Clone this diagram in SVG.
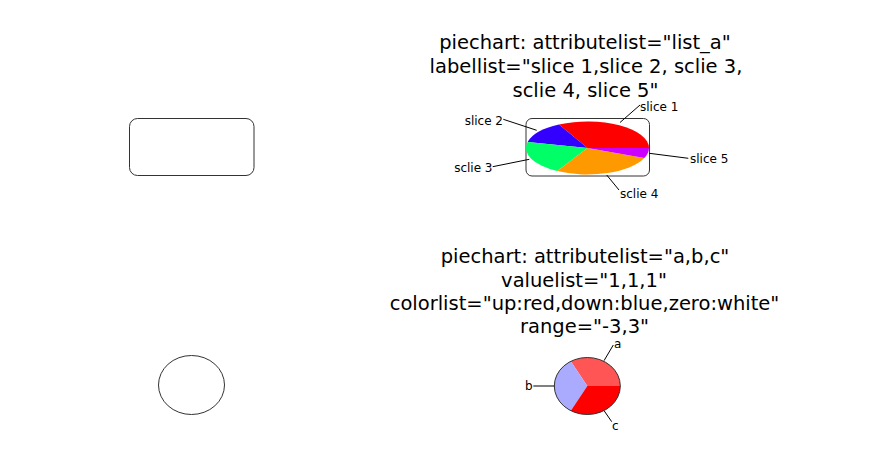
<svg xmlns="http://www.w3.org/2000/svg" width="889" height="475" viewBox="0 0 889 475">
<style>
.shape{fill:#fff;stroke:#333;stroke-width:1}
.title{font-family:"DejaVu Sans",sans-serif;font-size:19.5px;fill:#000;text-anchor:middle}
.lbl{font-family:"DejaVu Sans",sans-serif;font-size:12px;fill:#000}
.lead{stroke:#000;stroke-width:1;fill:none}
</style>
<rect width="889" height="475" fill="#fff"/>
<g id="node-rect">
<rect class="shape" x="129.5" y="118.5" width="124.5" height="57" rx="8"/>
</g>
<g id="node-ellipse">
<ellipse class="shape" cx="191.5" cy="385" rx="33" ry="29.5"/>
</g>
<g id="node-pie1">
<text class="title" x="585" y="48.5">piechart: attributelist="list_a"</text>
<text class="title" x="586" y="72.5">labellist="slice 1,slice 2, sclie 3,</text>
<text class="title" x="585.5" y="96.5">sclie 4, slice 5"</text>
<rect class="shape" x="526" y="118.5" width="123.5" height="57.5" rx="6"/>
<path d="M587.5,148 L649,148 A61.5,26.5 0 0,0 559,124.5 Z" fill="#ff0000"/>
<path d="M587.5,148 L559,124.5 A61.5,26.5 0 0,0 527.6,142 Z" fill="#3300ff"/>
<path d="M587.5,148 L527.6,142 A61.5,26.5 0 0,0 557.2,171.1 Z" fill="#00ff66"/>
<path d="M587.5,148 L557.2,171.1 A61.5,26.5 0 0,0 644.3,158.1 Z" fill="#ff9900"/>
<path d="M587.5,148 L644.3,158.1 A61.5,26.5 0 0,0 649,148 Z" fill="#cc00ff"/>
<text class="lbl" x="640" y="110.5">slice 1</text>
<text class="lbl" x="503" y="124.5" text-anchor="end">slice 2</text>
<text class="lbl" x="492.5" y="171.5" text-anchor="end">sclie 3</text>
<text class="lbl" x="620" y="197.5">sclie 4</text>
<text class="lbl" x="690" y="162.5">slice 5</text>
</g>
<g id="node-pie2">
<text class="title" x="585" y="263">piechart: attributelist="a,b,c"</text>
<text class="title" x="584" y="286.6">valuelist="1,1,1"</text>
<text class="title" x="584.5" y="310">colorlist="up:red,down:blue,zero:white"</text>
<text class="title" x="584.5" y="333.4">range="-3,3"</text>
<path d="M587.3,386 L620.3,386 A33,28.5 0 0,0 570.8,361.3 Z" fill="#ff5555"/>
<path d="M587.3,386 L570.8,361.3 A33,28.5 0 0,0 570.8,410.7 Z" fill="#aaaaff"/>
<path d="M587.3,386 L570.8,410.7 A33,28.5 0 0,0 620.3,386 Z" fill="#ff0000"/>
<ellipse cx="587.3" cy="386" rx="33" ry="28.5" fill="none" stroke="#333" stroke-width="1"/>
<text class="lbl" x="614" y="348">a</text>
<text class="lbl" x="532.5" y="389.5" text-anchor="end">b</text>
<text class="lbl" x="612" y="430">c</text>
</g>
<g id="connectors">
<line class="lead" x1="620" y1="122.5" x2="640" y2="105"/>
<line class="lead" x1="536.7" y1="130.3" x2="503.3" y2="119.3"/>
<line class="lead" x1="529.3" y1="159.3" x2="492.7" y2="166.7"/>
<line class="lead" x1="606.7" y1="175" x2="619" y2="190"/>
<line class="lead" x1="649.3" y1="153.3" x2="688.3" y2="158.3"/>
<line class="lead" x1="604" y1="360.7" x2="613.3" y2="345"/>
<line class="lead" x1="554.3" y1="386" x2="533.3" y2="386"/>
<line class="lead" x1="604.3" y1="411" x2="611.7" y2="421.7"/>
</g>
</svg>
